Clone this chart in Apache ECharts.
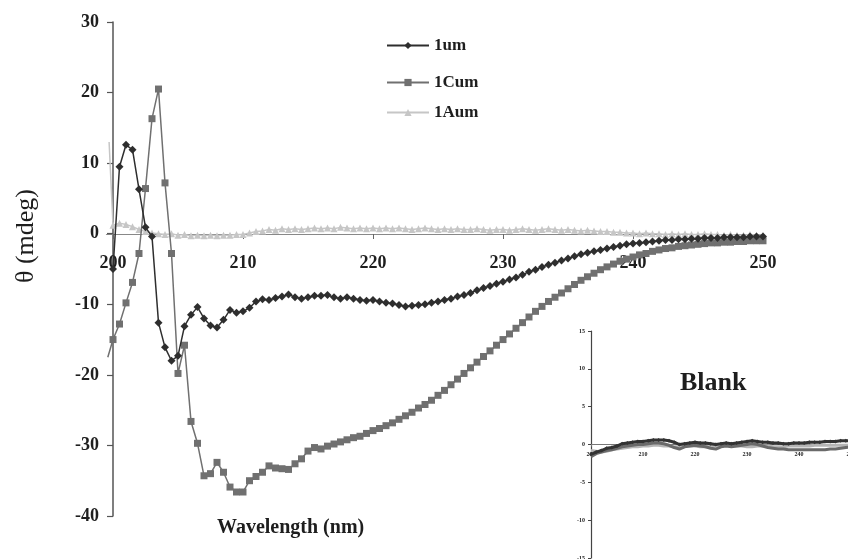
<!DOCTYPE html>
<html>
<head>
<meta charset="utf-8">
<script src="https://cdn.jsdelivr.net/npm/echarts@6/dist/echarts.min.js"></script>
<style>
  html, body { margin: 0; padding: 0; background: #fff; }
  #chart { width: 848px; height: 559px; }
</style>
</head>
<body>
<div id="chart"></div>
<script>
// wavelength (nm), 0.5 nm steps
const wavelength = [
  200, 200.5, 201, 201.5, 202, 202.5, 203, 203.5, 204, 204.5,
  205, 205.5, 206, 206.5, 207, 207.5, 208, 208.5, 209, 209.5,
  210, 210.5, 211, 211.5, 212, 212.5, 213, 213.5, 214, 214.5,
  215, 215.5, 216, 216.5, 217, 217.5, 218, 218.5, 219, 219.5,
  220, 220.5, 221, 221.5, 222, 222.5, 223, 223.5, 224, 224.5,
  225, 225.5, 226, 226.5, 227, 227.5, 228, 228.5, 229, 229.5,
  230, 230.5, 231, 231.5, 232, 232.5, 233, 233.5, 234, 234.5,
  235, 235.5, 236, 236.5, 237, 237.5, 238, 238.5, 239, 239.5,
  240, 240.5, 241, 241.5, 242, 242.5, 243, 243.5, 244, 244.5,
  245, 245.5, 246, 246.5, 247, 247.5, 248, 248.5, 249, 249.5, 250
];
const xTicks = [200, 210, 220, 230, 240, 250];

const um1 = [
  -5.0, 9.5, 12.6, 11.9, 6.3, 0.9, -0.4, -12.6, -16.1, -18.0,
  -17.3, -13.1, -11.5, -10.4, -12.0, -13.0, -13.3, -12.2, -10.8, -11.2,
  -11.0, -10.5, -9.6, -9.3, -9.4, -9.1, -8.9, -8.6, -9.0, -9.2,
  -9.0, -8.8, -8.8, -8.7, -9.0, -9.2, -9.0, -9.2, -9.4, -9.5,
  -9.4, -9.6, -9.8, -9.9, -10.1, -10.3, -10.2, -10.1, -10.0, -9.8,
  -9.6, -9.4, -9.2, -8.9, -8.7, -8.4, -8.0, -7.7, -7.4, -7.1,
  -6.8, -6.5, -6.2, -5.8, -5.4, -5.1, -4.7, -4.4, -4.1, -3.8,
  -3.5, -3.2, -2.9, -2.7, -2.5, -2.3, -2.1, -1.9, -1.7, -1.5,
  -1.4, -1.3, -1.2, -1.1, -1.0, -0.9, -0.9, -0.8, -0.8, -0.7,
  -0.7, -0.6, -0.6, -0.6, -0.5, -0.5, -0.5, -0.5, -0.4, -0.4, -0.4
];

const um1C = [
  -15.0, -12.8, -9.8, -6.9, -2.8, 6.4, 16.3, 20.5, 7.2, -2.8,
  -19.8, -15.8, -26.6, -29.7, -34.3, -34.0, -32.4, -33.8, -35.9, -36.6,
  -36.6, -35.0, -34.4, -33.8, -32.9, -33.2, -33.3, -33.4, -32.6, -31.9,
  -30.8, -30.3, -30.5, -30.1, -29.8, -29.5, -29.2, -28.9, -28.7, -28.3,
  -27.9, -27.6, -27.2, -26.8, -26.3, -25.8, -25.3, -24.7, -24.2, -23.6,
  -22.9, -22.2, -21.4, -20.6, -19.8, -19.0, -18.2, -17.4, -16.6, -15.8,
  -15.0, -14.2, -13.4, -12.6, -11.8, -11.0, -10.3, -9.6, -9.0, -8.4,
  -7.8, -7.2, -6.6, -6.1, -5.6, -5.1, -4.7, -4.3, -3.9, -3.6,
  -3.3, -3.0, -2.8, -2.5, -2.3, -2.1, -2.0, -1.8, -1.7, -1.6,
  -1.5, -1.4, -1.3, -1.3, -1.2, -1.2, -1.1, -1.1, -1.0, -1.0, -1.0
];

const um1A = [
  1.2, 1.5, 1.3, 1.0, 0.6, 0.3, 0.1, 0.0, -0.1, 0.0,
  -0.2, -0.1, -0.3, -0.2, -0.3, -0.2, -0.3, -0.2, -0.2, -0.1,
  -0.1, 0.1, 0.3, 0.4, 0.6, 0.5, 0.7, 0.6, 0.7, 0.6,
  0.7, 0.8, 0.7, 0.8, 0.7, 0.9, 0.8, 0.7, 0.8, 0.7,
  0.8, 0.7, 0.8, 0.7, 0.8, 0.7, 0.6, 0.7, 0.8, 0.7,
  0.6, 0.7, 0.6, 0.7, 0.6, 0.6, 0.7, 0.6, 0.5, 0.6,
  0.6, 0.5, 0.6, 0.7, 0.6, 0.5, 0.6, 0.7, 0.6, 0.5,
  0.6, 0.5, 0.4, 0.5, 0.4, 0.3, 0.3, 0.2, 0.2, 0.1,
  0.1, 0.0, 0.1, 0.0, 0.0, -0.1, 0.0, -0.1, 0.0, -0.1,
  -0.1, 0.0, -0.1, -0.1, -0.2, -0.1, -0.2, -0.2, -0.1, -0.2, -0.2
];

// readings just left of 200 nm
const leadC = [[199.6, -17.5]];
const leadA = [[199.7, 13.0]];

// inset "Blank", 1 nm steps
const blankWl = [
  200, 201, 202, 203, 204, 205, 206, 207, 208, 209,
  210, 211, 212, 213, 214, 215, 216, 217, 218, 219,
  220, 221, 222, 223, 224, 225, 226, 227, 228, 229,
  230, 231, 232, 233, 234, 235, 236, 237, 238, 239,
  240, 241, 242, 243, 244, 245, 246, 247, 248, 249, 250
];
const blankDark = [
  -1.3, -1.0, -0.8, -0.5, -0.4, -0.2, 0.1, 0.2, 0.3, 0.4,
  0.4, 0.5, 0.6, 0.6, 0.6, 0.5, 0.3, 0.0, 0.1, 0.2,
  0.3, 0.2, 0.2, 0.1, 0.0, 0.1, 0.2, 0.1, 0.2, 0.3,
  0.4, 0.5, 0.4, 0.3, 0.3, 0.2, 0.2, 0.1, 0.1, 0.2,
  0.2, 0.2, 0.3, 0.3, 0.3, 0.4, 0.4, 0.4, 0.5, 0.5, 0.5
];
const blankMid = [
  -1.6, -1.2, -1.0, -0.8, -0.7, -0.5, -0.3, -0.2, -0.1, 0.0,
  0.0, 0.1, 0.2, 0.2, 0.1, -0.1, -0.4, -0.6, -0.3, -0.2,
  -0.1, -0.2, -0.3, -0.5, -0.6, -0.3, -0.2, -0.3, -0.2, -0.1,
  0.0, 0.1, 0.0, -0.2, -0.4, -0.5, -0.6, -0.6, -0.7, -0.7,
  -0.7, -0.7, -0.7, -0.7, -0.7, -0.7, -0.6, -0.6, -0.5, -0.4, -0.3
];
const blankLight = [
  -0.8, -0.9, -1.0, -0.9, -0.7, -0.6, -0.5, -0.4, -0.3, -0.3,
  -0.2, -0.2, -0.1, -0.1, -0.2, -0.2, -0.3, -0.3, -0.2, -0.2,
  -0.2, -0.3, -0.3, -0.2, -0.2, -0.2, -0.1, -0.2, -0.2, -0.2,
  -0.3, -0.3, -0.2, -0.2, -0.2, -0.3, -0.3, -0.3, -0.2, -0.2,
  -0.2, -0.2, -0.2, -0.1, -0.1, -0.1, -0.1, -0.1, -0.1, -0.1, -0.1
];

const pair = (xs, ys) => xs.map((x, i) => [x, ys[i]]);
const lead = (pts) => pts.map((p) => ({ value: p, symbol: "none" }));

const FONT = "Liberation Serif";
const INK = "#1e1e1e";
const DARK = "#2e2e2e";
const MID = "#707070";
const LIGHT = "#c6c6c6";

const chart = echarts.init(document.getElementById("chart"));

const legendBase = {
  orient: "vertical",
  left: 381,
  itemWidth: 42,
  itemHeight: 9,
  textStyle: { fontFamily: FONT, fontSize: 17, fontWeight: "bold", color: INK }
};

// main box spans 199.5..250 nm (13 px/nm); the y axis is shifted onto 200 nm
const option = {
  backgroundColor: "#ffffff",
  animation: false,
  textStyle: { fontFamily: FONT },
  legend: [
    Object.assign({}, legendBase, { top: 32, data: ["1um"] }),
    Object.assign({}, legendBase, { top: 69, data: ["1Cum"] }),
    Object.assign({}, legendBase, { top: 99, data: ["1Aum"] })
  ],
  graphic: [
    {
      type: "text",
      left: 680,
      top: 370,
      style: { text: "Blank", font: "bold 26px 'Liberation Serif'", fill: INK }
    },
    {
      type: "text",
      left: 217,
      top: 518,
      style: { text: "Wavelength (nm)", font: "bold 20px 'Liberation Serif'", fill: INK }
    },
    {
      type: "text",
      x: 26,
      y: 236,
      rotation: Math.PI / 2,
      style: {
        text: "\u03b8 (mdeg)", font: "26px 'Liberation Serif'", fill: INK,
        align: "center", verticalAlign: "middle"
      }
    }
  ],
  grid: [
    { left: 106.5, right: 85, top: 22, bottom: 43, outerBoundsMode: "none", containLabel: false },
    { left: 591, top: 331, width: 260, height: 227, outerBoundsMode: "none", containLabel: false }
  ],
  xAxis: [
    {
      gridIndex: 0,
      type: "value",
      min: 199.5,
      max: 250,
      position: "bottom",
      offset: -282,
      axisLine: { onZero: false, lineStyle: { color: "#888", width: 1.2 } },
      axisTick: { show: true, length: 5, customValues: xTicks, lineStyle: { color: "#666" } },
      axisLabel: {
        margin: 20, customValues: xTicks,
        fontFamily: FONT, fontSize: 18, fontWeight: "bold", color: INK
      },
      splitLine: { show: false }
    },
    {
      gridIndex: 1,
      type: "value",
      min: 200,
      max: 250,
      interval: 10,
      position: "bottom",
      offset: -113.5,
      axisLine: { onZero: false, lineStyle: { color: "#777", width: 1 } },
      axisTick: { show: true, length: 2, lineStyle: { color: "#777" } },
      axisLabel: { margin: 7, fontFamily: FONT, fontSize: 6, fontWeight: "bold", color: INK },
      splitLine: { show: false }
    }
  ],
  yAxis: [
    {
      gridIndex: 0,
      type: "value",
      min: -40,
      max: 30,
      interval: 10,
      offset: -6.5,
      axisLine: { show: true, onZero: false, lineStyle: { color: "#555", width: 1.5 } },
      axisTick: { show: true, inside: false, length: 6, lineStyle: { color: "#555", width: 1.2 } },
      axisLabel: { margin: 14, fontFamily: FONT, fontSize: 18, fontWeight: "bold", color: INK },
      splitLine: { show: false }
    },
    {
      gridIndex: 1,
      type: "value",
      min: -15,
      max: 15,
      interval: 5,
      axisLine: { show: true, onZero: false, lineStyle: { color: "#444", width: 1.2 } },
      axisTick: { show: true, length: 3, lineStyle: { color: "#444" } },
      axisLabel: { margin: 6, fontFamily: FONT, fontSize: 6, fontWeight: "bold", color: INK },
      splitLine: { show: false }
    }
  ],
  series: [
    {
      name: "1Aum",
      type: "line",
      xAxisIndex: 0,
      yAxisIndex: 0,
      data: lead(leadA).concat(pair(wavelength, um1A)),
      symbol: "triangle",
      symbolSize: 7,
      itemStyle: { color: LIGHT },
      lineStyle: { color: LIGHT, width: 1.5 },
      z: 2
    },
    {
      name: "1Cum",
      type: "line",
      xAxisIndex: 0,
      yAxisIndex: 0,
      data: lead(leadC).concat(pair(wavelength, um1C)),
      symbol: "rect",
      symbolSize: 7,
      itemStyle: { color: MID },
      lineStyle: { color: MID, width: 1.5 },
      z: 3
    },
    {
      name: "1um",
      type: "line",
      xAxisIndex: 0,
      yAxisIndex: 0,
      data: pair(wavelength, um1),
      symbol: "diamond",
      symbolSize: 8,
      itemStyle: { color: DARK },
      lineStyle: { color: DARK, width: 1.5 },
      z: 4
    },
    {
      name: "blank light",
      type: "line",
      xAxisIndex: 1,
      yAxisIndex: 1,
      data: pair(blankWl, blankLight),
      symbol: "none",
      lineStyle: { color: "#b5b5b5", width: 3 }
    },
    {
      name: "blank mid",
      type: "line",
      xAxisIndex: 1,
      yAxisIndex: 1,
      data: pair(blankWl, blankMid),
      symbol: "none",
      lineStyle: { color: "#6a6a6a", width: 3 }
    },
    {
      name: "blank dark",
      type: "line",
      xAxisIndex: 1,
      yAxisIndex: 1,
      data: pair(blankWl, blankDark),
      symbol: "diamond",
      symbolSize: 4,
      itemStyle: { color: "#333" },
      lineStyle: { color: "#333", width: 3 }
    }
  ]
};

chart.setOption(option);
</script>
</body>
</html>
